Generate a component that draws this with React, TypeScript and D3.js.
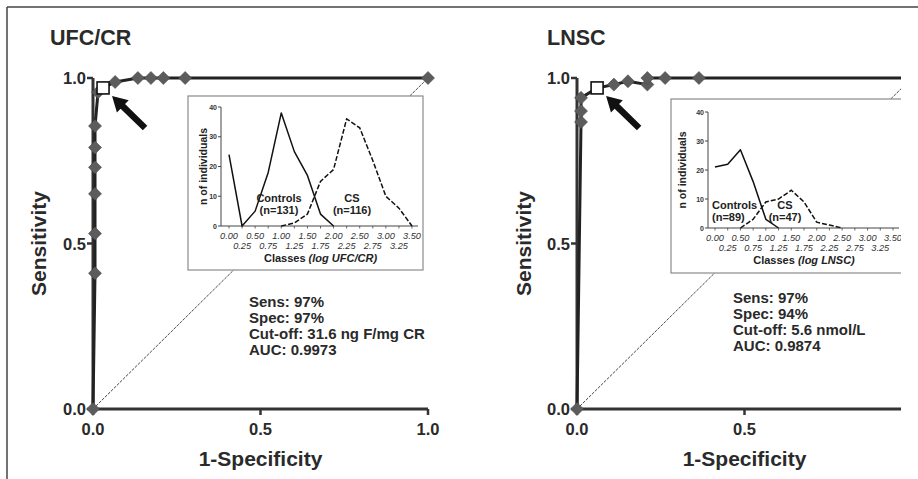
import * as d3 from 'd3';

// ROC points (1-specificity, sensitivity); the cut-off point is drawn as an open square
const ufcFpr = [0, 0.006, 0.006, 0.006, 0.006, 0.006, 0.006, 0.015, 0.03, 0.066, 0.134, 0.173, 0.21, 0.275, 1.0];
const ufcSens = [0, 0.41, 0.53, 0.65, 0.73, 0.79, 0.855, 0.957, 0.97, 0.988, 1, 1, 1, 1, 1];
const ufcCutIndex = 8;

const lnscFpr = [0, 0.012, 0.012, 0.012, 0.06, 0.11, 0.152, 0.21, 0.21, 0.263, 0.364, 1.0];
const lnscSens = [0, 0.867, 0.9, 0.94, 0.97, 0.98, 0.99, 0.98, 1, 1, 1, 1];
const lnscCutIndex = 4;

// inset distributions (n of individuals per class)
const classes = ['0.00', '0.25', '0.50', '0.75', '1.00', '1.25', '1.50', '1.75', '2.00', '2.25', '2.50', '2.75', '3.00', '3.25', '3.50'];
const ufcControls = [24, 0, 5, 18, 38, 25, 17, 4, 0, null, null, null, null, null, null];
const ufcCs = [null, null, null, null, 0, 1, 4, 15, 19, 36, 33, 22, 10, 6, 0];
const lnscControls = [21, 22, 27, 16, 3, 0, null, null, null, null, null, null, null, null, null];
const lnscCs = [null, null, 0, 3, 9, 10, 13, 9, 2, 1, 0, null, null, null, null];

const rocTicks = [0, 0.5, 1];
const insetTicks = [0, 10, 20, 30, 40];

const ufcStats = ['Sens: 97%', 'Spec: 97%', 'Cut-off: 31.6 ng F/mg CR', 'AUC: 0.9973'];
const lnscStats = ['Sens: 97%', 'Spec: 94%', 'Cut-off: 5.6 nmol/L', 'AUC: 0.9874'];

const FONT = '"Liberation Sans", Arial, Helvetica, sans-serif';
const DARK = '#2a2a2a';

interface InsetLayout {
  left: number; top: number; right: number; bottom: number;
  axisX: number; px0: number; px1: number; py0: number; py1: number; yLabelX: number;
}

interface PanelProps {
  title: string;
  fpr: number[];
  sens: number[];
  cutIndex: number;
  controls: (number | null)[];
  cs: (number | null)[];
  controlsN: string;
  csN: string;
  classesUnit: string;
  stats: string[];
  layout: {
    titleX: number; x0: number; x1: number; yLabelX: number; clipX: number;
    inset: InsetLayout;
    statsX: number; statsY: number;
    ctrl: { x: number; y: number; anchor: 'start' | 'middle' };
    csLbl: { x: number; y: number };
  };
}

const diamond = (s: number) => `M0,${-s}L${s},0L0,${s}L${-s},0Z`;

const arrowPath = (tx: number, ty: number, bx: number, by: number) => {
  const len = Math.hypot(tx - bx, ty - by);
  const ux = (tx - bx) / len, uy = (ty - by) / len;
  const nx = -uy, ny = ux;
  const L = 15, hw = 8.5, sw = 3.2;
  const hx = tx - ux * L, hy = ty - uy * L;
  const pts = [
    [tx, ty],
    [hx + nx * hw, hy + ny * hw],
    [hx + nx * sw, hy + ny * sw],
    [bx + nx * sw, by + ny * sw],
    [bx - nx * sw, by - ny * sw],
    [hx - nx * sw, hy - ny * sw],
    [hx - nx * hw, hy - ny * hw],
  ];
  return 'M' + pts.map((p) => p.join(',')).join('L') + 'Z';
};

function Inset({ lay, controls, cs, controlsN, csN, classesUnit, ctrl, csLbl }: {
  lay: InsetLayout; controls: (number | null)[]; cs: (number | null)[]; controlsN: string; csN: string;
  classesUnit: string; ctrl: PanelProps['layout']['ctrl']; csLbl: PanelProps['layout']['csLbl'];
}) {
  const x = d3.scalePoint<string>().domain(classes).range([lay.px0, lay.px1]);
  const y = d3.scaleLinear().domain([0, 40]).range([lay.py0, lay.py1]);
  const line = d3
    .line<number | null>()
    .defined((d) => d !== null)
    .x((_, i) => x(classes[i])!)
    .y((d) => y(d as number));

  return (
    <g>
      <rect x={lay.left} y={lay.top} width={lay.right - lay.left} height={lay.bottom - lay.top}
        fill="#fff" stroke="#8a8a8a" strokeWidth={1.2} />
      {/* axes */}
      <line x1={lay.axisX} x2={lay.axisX} y1={y(0)} y2={y(40)} stroke="#444" strokeWidth={1} />
      <line x1={lay.axisX} x2={lay.px1 + 6} y1={y(0)} y2={y(0)} stroke="#444" strokeWidth={1} />
      {insetTicks.map((t) => (
        <g key={t}>
          <line x1={lay.axisX - 3} x2={lay.axisX} y1={y(t)} y2={y(t)} stroke="#444" strokeWidth={1} />
          <text x={lay.axisX - 4} y={y(t)} dominantBaseline="central" textAnchor="end"
            fontSize={7} fontWeight="bold" fill="#333">{t}</text>
        </g>
      ))}
      {classes.map((c, i) => (
        <g key={c}>
          <line x1={x(c)} x2={x(c)} y1={y(0)} y2={y(0) + 2.5} stroke="#444" strokeWidth={0.8} />
          <text x={x(c)} y={y(0) + (i % 2 === 0 ? 9.5 : 20)} dominantBaseline="central" textAnchor="middle"
            fontSize={9.2} fontStyle="italic" fill="#333">{c}</text>
        </g>
      ))}
      <text x={(lay.px0 + lay.px1) / 2} y={y(0) + 32} dominantBaseline="central" textAnchor="middle"
        fontSize={11} fontWeight="bold" fill="#222">
        Classes <tspan fontStyle="italic">({classesUnit})</tspan>
      </text>
      <text transform={`translate(${lay.yLabelX},${(y(0) + y(40)) / 2}) rotate(-90)`} textAnchor="middle"
        dominantBaseline="central" fontSize={10.5} fontWeight="bold" fill="#222">n of individuals</text>
      {/* series */}
      <path d={line(controls) ?? ''} fill="none" stroke="#111" strokeWidth={1.5} strokeLinejoin="round" />
      <path d={line(cs) ?? ''} fill="none" stroke="#111" strokeWidth={1.5} strokeDasharray="5,2" />
      {/* group labels */}
      <text x={ctrl.x} y={ctrl.y} textAnchor={ctrl.anchor} dominantBaseline="central" fontSize={11}
        fontWeight="bold" fill="#222">Controls</text>
      <text x={ctrl.x} y={ctrl.y + 12} textAnchor={ctrl.anchor} dominantBaseline="central" fontSize={11}
        fontWeight="bold" fill="#222">{controlsN}</text>
      <text x={csLbl.x} y={csLbl.y} textAnchor="middle" dominantBaseline="central" fontSize={11}
        fontWeight="bold" fill="#222">CS</text>
      <text x={csLbl.x} y={csLbl.y + 12} textAnchor="middle" dominantBaseline="central" fontSize={11}
        fontWeight="bold" fill="#222">{csN}</text>
    </g>
  );
}

function RocPanel({ title, fpr, sens, cutIndex, controls, cs, controlsN, csN, classesUnit, stats, layout }: PanelProps) {
  const x = d3.scaleLinear().domain([0, 1]).range([layout.x0, layout.x1]);
  const y = d3.scaleLinear().domain([0, 1]).range([409, 78]);
  const pts = fpr.map((f, i) => [f, sens[i]] as [number, number]);
  const rocLine = d3.line<[number, number]>().x((d) => x(d[0])).y((d) => y(d[1]));

  const cx = x(fpr[cutIndex]);
  const cy = y(sens[cutIndex]);
  const tipX = cx + 9, tipY = cy + 8;

  return (
    <g>
      <text x={layout.titleX} y={38} dominantBaseline="central" fontSize={21.5} fontWeight="bold" fill={DARK}>{title}</text>
      {/* chance diagonal */}
      <line x1={x(0)} y1={y(0)} x2={x(1)} y2={y(1)} stroke="#333" strokeWidth={0.9} strokeDasharray="3,1.2" />
      <Inset lay={layout.inset} controls={controls} cs={cs} controlsN={controlsN} csN={csN}
        classesUnit={classesUnit} ctrl={layout.ctrl} csLbl={layout.csLbl} />
      {/* axes */}
      <line x1={x(0)} x2={x(0)} y1={y(0)} y2={y(1)} stroke="#333" strokeWidth={3} />
      <line x1={x(0)} x2={x(1)} y1={y(0)} y2={y(0)} stroke="#333" strokeWidth={3} />
      {rocTicks.map((t) => (
        <g key={'y' + t}>
          <line x1={x(0) - 6} x2={x(0)} y1={y(t)} y2={y(t)} stroke="#333" strokeWidth={2.5} />
          <text x={x(0) - 7} y={y(t)} dominantBaseline="central" textAnchor="end" fontSize={16.5}
            fontWeight="bold" fill={DARK}>{t.toFixed(1)}</text>
        </g>
      ))}
      {rocTicks.map((t) => (
        <g key={'x' + t}>
          <line x1={x(t)} x2={x(t)} y1={y(0)} y2={y(0) + 6} stroke="#333" strokeWidth={2.5} />
          {x(t) + 14 < layout.clipX && (
            <text x={x(t)} y={y(0) + 20} dominantBaseline="central" textAnchor="middle" fontSize={16.5}
              fontWeight="bold" fill={DARK}>{t.toFixed(1)}</text>
          )}
        </g>
      ))}
      <text x={x(0.5)} y={458} dominantBaseline="central" textAnchor="middle" fontSize={21}
        fontWeight="bold" fill={DARK}>1-Specificity</text>
      <text transform={`translate(${layout.yLabelX},${y(0.5)}) rotate(-90)`} dominantBaseline="central"
        textAnchor="middle" fontSize={21} fontWeight="bold" fill={DARK}>Sensitivity</text>
      {/* ROC curve */}
      <path d={rocLine(pts) ?? ''} fill="none" stroke="#222" strokeWidth={3} strokeLinejoin="round" />
      {pts.map((p, i) =>
        i === cutIndex ? null : (
          <path key={i} d={diamond(6.5)} transform={`translate(${x(p[0])},${y(p[1])})`} fill="#5c5c5c"
            stroke="#4a4a4a" strokeWidth={0.6} />
        )
      )}
      <rect x={cx - 6} y={cy - 6} width={12} height={12} fill="#fff" stroke="#111" strokeWidth={1.6} />
      <path d={arrowPath(tipX, tipY, tipX + 33, tipY + 32)} fill="#111" />
      {stats.map((s, i) => (
        <text key={s} x={layout.statsX} y={layout.statsY + i * 16.3} dominantBaseline="central"
          fontSize={15} fontWeight="bold" fill={DARK}>{s}</text>
      ))}
    </g>
  );
}

export default function App() {
  return (
    <svg width={918} height={479} style={{ position: 'absolute', left: 0, top: 0, background: '#fff' }}
      fontFamily={FONT}>
      <defs>
        <clipPath id="rightClip">
          <rect x={460} y={0} width={441} height={479} />
        </clipPath>
      </defs>
      <rect x={0} y={0} width={918} height={479} fill="#fff" />
      <line x1={7} x2={918} y1={7} y2={7} stroke="#444" strokeWidth={1.5} />
      <line x1={7} x2={7} y1={7} y2={479} stroke="#444" strokeWidth={1.5} />
      <RocPanel
        title="UFC/CR" fpr={ufcFpr} sens={ufcSens} cutIndex={ufcCutIndex}
        controls={ufcControls} cs={ufcCs} controlsN="(n=131)" csN="(n=116)" classesUnit="log UFC/CR"
        stats={ufcStats}
        layout={{
          titleX: 50, x0: 93, x1: 428, yLabelX: 38, clipX: 918,
          inset: { left: 188, top: 96, right: 423, bottom: 270, axisX: 221, px0: 229, px1: 412, py0: 226, py1: 107, yLabelX: 203 },
          statsX: 249, statsY: 301,
          ctrl: { x: 279, y: 198, anchor: 'middle' }, csLbl: { x: 352, y: 198 },
        }}
      />
      <g clipPath="url(#rightClip)">
        <RocPanel
          title="LNSC" fpr={lnscFpr} sens={lnscSens} cutIndex={lnscCutIndex}
          controls={lnscControls} cs={lnscCs} controlsN="(n=89)" csN="(n=47)" classesUnit="log LNSC"
          stats={lnscStats}
          layout={{
            titleX: 547, x0: 577, x1: 912, yLabelX: 523, clipX: 901,
            inset: { left: 671, top: 99, right: 930, bottom: 273, axisX: 708, px0: 715, px1: 893, py0: 228, py1: 112, yLabelX: 682 },
            statsX: 733, statsY: 297,
            ctrl: { x: 712, y: 205, anchor: 'start' }, csLbl: { x: 785, y: 205 },
          }}
        />
      </g>
    </svg>
  );
}
